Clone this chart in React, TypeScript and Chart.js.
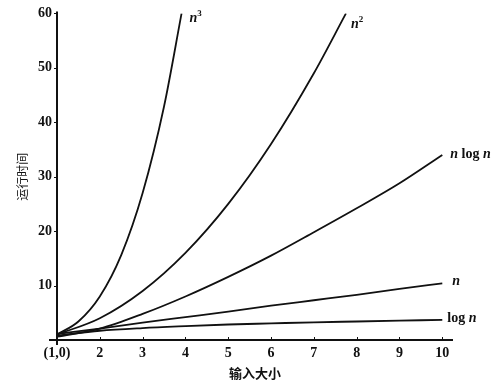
import React, { useEffect, useRef } from "react";
import { Chart, registerables } from "chart.js";

Chart.register(...registerables);

// ---- data ----
const xTicks = [1, 2, 3, 4, 5, 6, 7, 8, 9, 10];
const xTickLabels = ["(1,0)", "2", "3", "4", "5", "6", "7", "8", "9", "10"];
const yTicks = [10, 20, 30, 40, 50, 60];

const cubeN = [1, 1.5, 2, 2.5, 3, 3.5, 3.91];
const cubeT = [1, 3.4, 8, 15.6, 27, 42.9, 60];

const squareN = [1, 2, 3, 4, 5, 6, 7, 7.75];
const squareT = [1, 4, 9, 16, 25, 36, 49, 60];

const sizeN = [1, 2, 3, 4, 5, 6, 7, 8, 9, 10];
const nLogNT = [0.6, 2.1, 4.8, 8, 11.6, 15.5, 19.8, 24.2, 28.8, 34];
const linearT = [1.1, 2.1, 3.2, 4.2, 5.2, 6.3, 7.3, 8.3, 9.4, 10.4];
const logT = [0.8, 1.7, 2.2, 2.55, 2.85, 3.05, 3.25, 3.4, 3.55, 3.7];

const xTitle = "输入大小";
const yTitle = "运行时间";

type Seg = { t: string; italic?: boolean; sup?: boolean };
const curveLabels: Seg[][] = [
  [{ t: "n", italic: true }, { t: "3", sup: true }],
  [{ t: "n", italic: true }, { t: "2", sup: true }],
  [{ t: "n", italic: true }, { t: " log " }, { t: "n", italic: true }],
  [{ t: "n", italic: true }],
  [{ t: "log " }, { t: "n", italic: true }],
];
const labelOffsets = [
  [8, 5],
  [5, 11],
  [8, -1],
  [10, -2],
  [5, -1],
];

const SERIF = '"Liberation Serif", "DejaVu Serif", serif';
const CJK = '"Noto Sans CJK SC", "Noto Sans", sans-serif';

const pts = (xs: number[], ys: number[]) => xs.map((x, i) => ({ x, y: ys[i] }));

const axesPlugin = {
  id: "axesPlugin",
  beforeDatasetsDraw(chart: any) {
    const { ctx } = chart;
    const xs = chart.scales.x;
    const ys = chart.scales.y;
    const x0 = xs.getPixelForValue(1);
    const y0 = ys.getPixelForValue(0);
    ctx.save();
    ctx.strokeStyle = "#111";
    ctx.lineWidth = 2;
    ctx.beginPath();
    ctx.moveTo(x0 - 8, y0);
    ctx.lineTo(xs.right, y0);
    ctx.moveTo(x0, ys.top - 2);
    ctx.lineTo(x0, y0 + 5);
    ctx.stroke();
    ctx.lineWidth = 1;
    ctx.beginPath();
    xTicks.slice(1).forEach((v) => {
      const px = Math.round(xs.getPixelForValue(v)) + 0.5;
      ctx.moveTo(px, y0);
      ctx.lineTo(px, y0 - 3);
    });
    yTicks.forEach((v) => {
      const py = Math.round(ys.getPixelForValue(v)) + 0.5;
      ctx.moveTo(x0, py);
      ctx.lineTo(x0 - 3, py);
    });
    ctx.stroke();
    ctx.restore();
  },
};

const labelPlugin = {
  id: "labelPlugin",
  afterDatasetsDraw(chart: any) {
    const { ctx } = chart;
    ctx.save();
    ctx.fillStyle = "#111";
    ctx.textBaseline = "middle";
    ctx.textAlign = "left";
    chart.data.datasets.forEach((_: any, i: number) => {
      const meta = chart.getDatasetMeta(i);
      const last = meta.data[meta.data.length - 1];
      if (!last) return;
      let x = last.x + labelOffsets[i][0];
      const y = last.y + labelOffsets[i][1];
      curveLabels[i].forEach((s) => {
        if (s.sup) {
          ctx.font = `bold 9px ${SERIF}`;
          ctx.fillText(s.t, x, y - 5);
        } else {
          ctx.font = `${s.italic ? "italic " : ""}bold 14px ${SERIF}`;
          ctx.fillText(s.t, x, y);
        }
        x += ctx.measureText(s.t).width;
      });
    });
    ctx.restore();
  },
};

export default function App() {
  const ref = useRef<HTMLCanvasElement>(null);
  useEffect(() => {
    if (!ref.current) return;
    const line = (xs: number[], ys: number[]) => ({
      data: pts(xs, ys),
      borderColor: "#111",
      borderWidth: 1.8,
      pointRadius: 0,
      fill: false,
      cubicInterpolationMode: "monotone" as const,
    });
    const chart = new Chart(ref.current, {
      type: "line",
      data: {
        datasets: [
          line(cubeN, cubeT),
          line(squareN, squareT),
          line(sizeN, nLogNT),
          line(sizeN, linearT),
          line(sizeN, logT),
        ],
      },
      plugins: [axesPlugin, labelPlugin],
      options: {
        animation: false,
        responsive: false,
        layout: { padding: { left: 0, right: 47, top: 10, bottom: 0 } },
        plugins: { legend: { display: false }, tooltip: { enabled: false } },
        scales: {
          x: {
            type: "linear",
            min: 1,
            max: 10.25,
            grid: { display: false, drawTicks: false, tickLength: 0 },
            border: { display: false },
            afterBuildTicks: (s: any) => {
              s.ticks = xTicks.map((v) => ({ value: v }));
            },
            afterFit: (s: any) => {
              s.height = 44;
            },
            ticks: {
              color: "#111",
              padding: 5,
              maxRotation: 0,
              autoSkip: false,
              font: { family: SERIF, size: 14, weight: "bold" },
              callback: (v: any) => {
                const i = xTicks.indexOf(Number(v));
                return i >= 0 ? xTickLabels[i] : "";
              },
            },
            title: {
              display: true,
              text: xTitle,
              color: "#111",
              font: { family: CJK, size: 13, weight: "bold" },
              padding: { top: 0, bottom: 3 },
            },
          },
          y: {
            type: "linear",
            min: 0,
            max: 60,
            grid: { display: false, drawTicks: false, tickLength: 0 },
            border: { display: false },
            afterBuildTicks: (s: any) => {
              s.ticks = yTicks.map((v) => ({ value: v }));
            },
            afterFit: (s: any) => {
              s.width = 57;
            },
            ticks: {
              color: "#111",
              padding: 5,
              font: { family: SERIF, size: 14, weight: "bold" },
            },
            title: {
              display: true,
              text: yTitle,
              color: "#111",
              font: { family: CJK, size: 12 },
              padding: { top: 15, bottom: 0 },
            },
          },
        },
      },
    } as any);
    return () => chart.destroy();
  }, []);
  return (
    <div style={{ position: "absolute", left: 0, top: 0, width: 500, height: 384, background: "#fff" }}>
      <canvas ref={ref} width={500} height={384} style={{ display: "block" }} />
    </div>
  );
}
